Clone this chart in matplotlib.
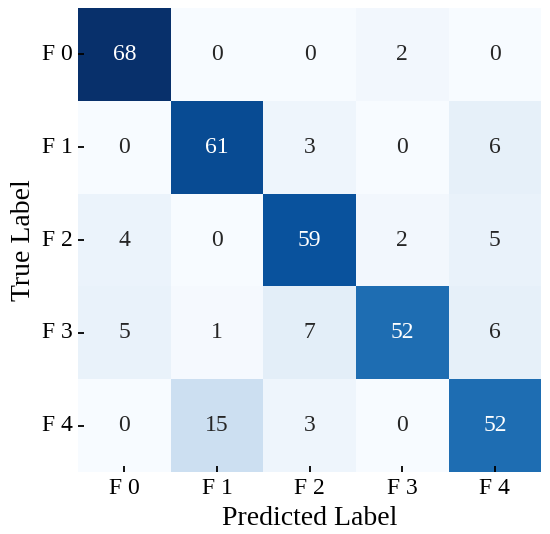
import numpy as np
import matplotlib
matplotlib.use("Agg")
import matplotlib.pyplot as plt
import seaborn as sns

labels = ['F 0', 'F 1', 'F 2', 'F 3', 'F 4']
cm = np.array([
    [68, 0, 0, 2, 0],
    [0, 61, 3, 0, 6],
    [4, 0, 59, 2, 5],
    [5, 1, 7, 52, 6],
    [0, 15, 3, 0, 52],
])

plt.rcParams['font.family'] = ['Liberation Serif', 'DejaVu Serif']

fig = plt.figure(figsize=(5.5, 5.34), dpi=100)
ax = fig.add_axes([0.142, 0.116, 0.842, 0.869])
sns.heatmap(cm, annot=True, fmt='d', cmap='Blues', cbar=False, vmin=0, vmax=68,
            xticklabels=labels, yticklabels=labels, ax=ax,
            annot_kws={'fontsize': 17})
ax.tick_params(axis='both', labelsize=17, length=4, width=1.3, direction='in')
ax.tick_params(axis='x', pad=4)
ax.tick_params(axis='y', pad=4)
ax.set_yticklabels(labels, rotation=0)
ax.set_xlabel('Predicted Label', fontsize=20, labelpad=5)
ax.set_ylabel('True Label', fontsize=20, labelpad=4)
fig.savefig('out.png', dpi=100)
